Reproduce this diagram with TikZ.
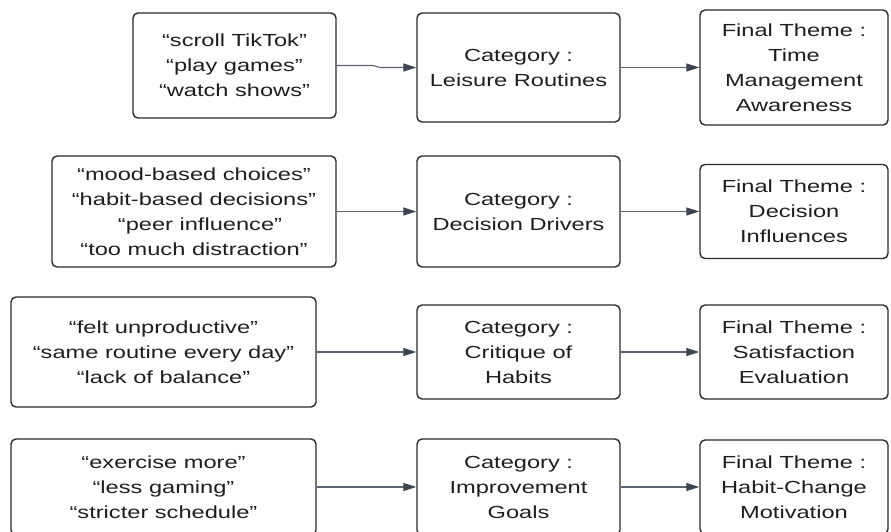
\documentclass[tikz,border=0pt]{standalone}
\usepackage{fontspec}
\setmainfont{Liberation Sans}[FakeStretch=1.35]
\usetikzlibrary{arrows.meta}
\definecolor{boxline}{HTML}{2A2A2A}
\definecolor{arrline}{HTML}{5B6370}
\definecolor{arrhead}{HTML}{3D4452}
\definecolor{txt}{HTML}{1E1E1E}
\tikzset{
  box/.style={draw=boxline, line width=1.4pt, rounded corners=5pt, align=center,
    inner sep=0pt, text=txt, font=\fontsize{17.5}{25}\selectfont},
  conn/.style={draw=arrline, line width=1.1pt,
    -{Triangle[length=13pt,width=8pt,fill=arrhead,color=arrhead]}}
}
\begin{document}
\begin{tikzpicture}[x=1pt,y=-1pt]
\useasboundingbox (0,0) rectangle (891,531);
\clip (0,0) rectangle (891,531);
% row 1
\node[box, minimum width=203pt, minimum height=105pt] (a1) at (234.5,65.5)
  {“scroll TikTok”\\“play games”\\“watch shows”};
\node[box, minimum width=203pt, minimum height=109pt] (c1) at (518.5,67.5)
  {Category :\\Leisure Routines};
\node[box, minimum width=188pt, minimum height=115pt] (f1) at (794,67.5)
  {Final Theme :\\Time\\Management\\Awareness};
% row 2
\node[box, minimum width=284pt, minimum height=111pt] (a2) at (194,211.5)
  {“mood-based choices”\\“habit-based decisions”\\\hspace*{12pt}“peer influence”\\“too much distraction”};
\node[box, minimum width=203pt, minimum height=111pt] (c2) at (518.5,211.5)
  {Category :\\Decision Drivers};
\node[box, minimum width=188pt, minimum height=94pt] (f2) at (794,211.5)
  {Final Theme :\\Decision\\Influences};
% row 3
\node[box, minimum width=305pt, minimum height=110pt] (a3) at (163.5,352)
  {“felt unproductive”\\“same routine every day”\\“lack of balance”};
\node[box, minimum width=203pt, minimum height=94pt] (c3) at (518.5,352)
  {Category :\\Critique of\\Habits};
\node[box, minimum width=188pt, minimum height=94pt] (f3) at (794,352)
  {Final Theme :\\Satisfaction\\Evaluation};
% row 4
\node[box, minimum width=305pt, minimum height=96pt] (a4) at (163.5,487)
  {“exercise more”\\“less gaming”\\“stricter schedule”};
\node[box, minimum width=203pt, minimum height=96pt] (c4) at (518.5,487)
  {Category :\\Improvement\\Goals};
\node[box, minimum width=188pt, minimum height=94pt] (f4) at (794,487)
  {Final Theme :\\Habit-Change\\Motivation};
% connectors
\coordinate (k1a) at (373,65.5);
\coordinate (k1b) at (380,67.5);
\draw[conn] (a1.east) -- (k1a) -- (k1b) -- (c1.west);
\draw[conn] (c1.east) -- (f1.west);
\draw[conn] (a2.east) -- (c2.west);
\draw[conn] (c2.east) -- (f2.west);
\draw[conn] (a3.east) -- (c3.west);
\draw[conn] (c3.east) -- (f3.west);
\draw[conn] (a4.east) -- (c4.west);
\draw[conn] (c4.east) -- (f4.west);
\end{tikzpicture}
\end{document}
